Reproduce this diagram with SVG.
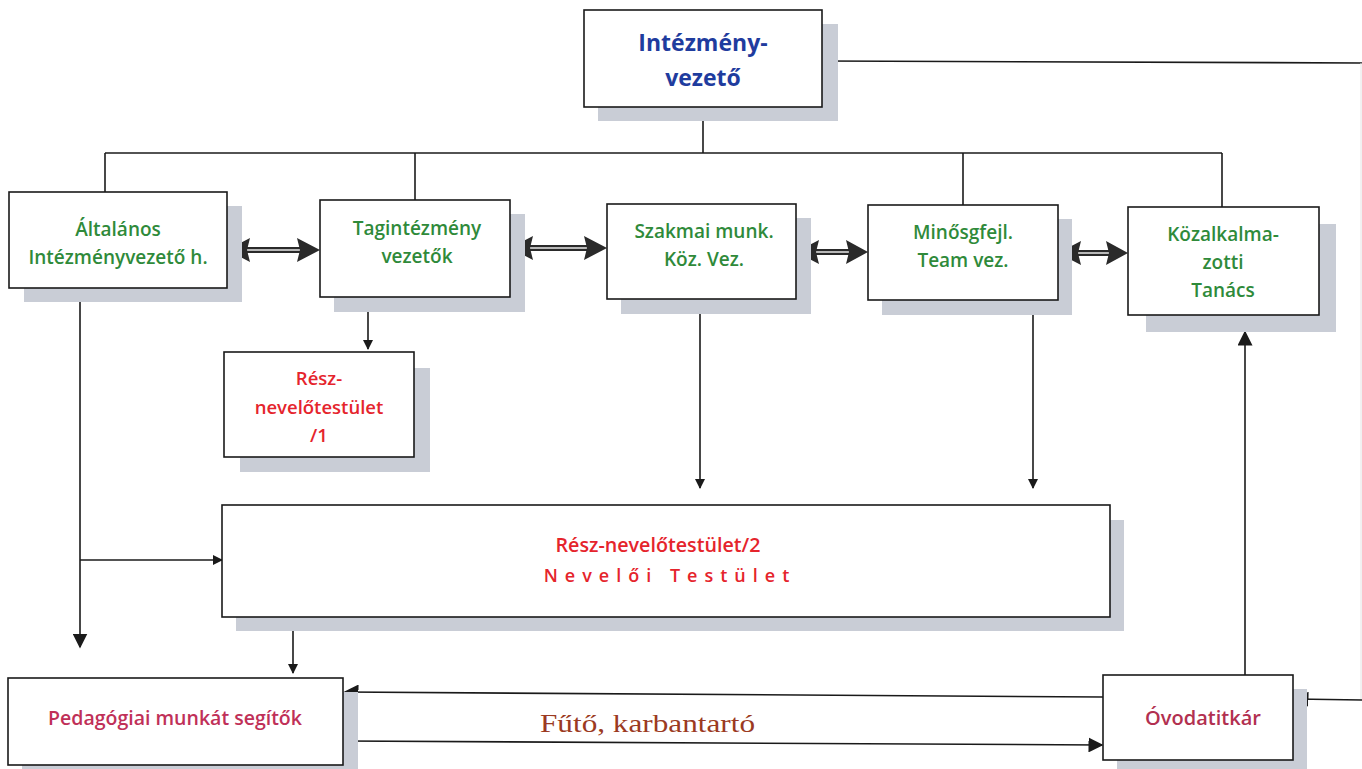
<svg xmlns="http://www.w3.org/2000/svg" width="1362" height="769" viewBox="0 0 1362 769">
<defs>
<style>
.box{fill:#fff;stroke:#1a1a1a;stroke-width:1.6}
.sh{fill:#c9cdd6}
.ln{fill:none;stroke:#1a1a1a;stroke-width:1.6}
.dbl{fill:none;stroke:#2a2a2a;stroke-width:6}
.dblw{fill:none;stroke:#e8e8e8;stroke-width:1.6}
.ah{fill:#2a2a2a}
.t{font-family:"Open Sans","Liberation Sans",sans-serif;font-weight:600;text-anchor:middle}
.blue{fill:#1f3c9e;font-size:23px;font-weight:700}
.green{fill:#2f8a3a;font-size:19px}
.red{fill:#e5242c;font-size:18.5px}
.pink{fill:#c03058;font-size:19.5px}
</style>
<marker id="arr" viewBox="0 0 10 10" refX="9" refY="5" markerWidth="10" markerHeight="10" markerUnits="userSpaceOnUse" orient="auto"><path d="M0,0 L10,5 L0,10 z" fill="#1a1a1a"/></marker>
<marker id="arrB" viewBox="0 0 10 10" refX="9" refY="5" markerWidth="15" markerHeight="15" markerUnits="userSpaceOnUse" orient="auto"><path d="M0,0 L10,5 L0,10 z" fill="#1a1a1a"/></marker>
</defs>

<g id="connectors">
<line class="ln" x1="822" y1="61" x2="1362" y2="63"/>
<line x1="1361" y1="63" x2="1361" y2="700" stroke="#e4e4e4" stroke-width="1"/>
<line class="ln" x1="703" y1="107" x2="703" y2="153"/>
<line class="ln" x1="105" y1="153" x2="1222" y2="153"/>
<line class="ln" x1="105" y1="153" x2="105" y2="192"/>
<line class="ln" x1="415" y1="153" x2="415" y2="200"/>
<line class="ln" x1="963" y1="153" x2="963" y2="205"/>
<line class="ln" x1="1222" y1="153" x2="1222" y2="207"/>
<g>
<line class="dbl" x1="245" y1="250" x2="300" y2="250"/><line class="dblw" x1="245" y1="250" x2="300" y2="250"/>
<polygon class="ah" points="227,250 250,238 247,250 250,262"/><polygon class="ah" points="320,250 297,238 300,250 297,262"/>
</g>
<g>
<line class="dbl" x1="528" y1="248" x2="590" y2="248"/><line class="dblw" x1="528" y1="248" x2="590" y2="248"/>
<polygon class="ah" points="510,248 533,236 530,248 533,260"/><polygon class="ah" points="607,248 584,236 587,248 584,260"/>
</g>
<g>
<line class="dbl" x1="814" y1="252" x2="852" y2="252"/><line class="dblw" x1="814" y1="252" x2="852" y2="252"/>
<polygon class="ah" points="796,252 819,240 816,252 819,264"/><polygon class="ah" points="868,252 846,240 849,252 846,264"/>
</g>
<g>
<line class="dbl" x1="1076" y1="253" x2="1112" y2="253"/><line class="dblw" x1="1076" y1="253" x2="1112" y2="253"/>
<polygon class="ah" points="1058,253 1081,241 1078,253 1081,265"/><polygon class="ah" points="1128,253 1106,241 1109,253 1106,265"/>
</g>
<line class="ln" x1="368" y1="297" x2="368" y2="349" marker-end="url(#arr)"/>
<line class="ln" x1="700" y1="299" x2="700" y2="488" marker-end="url(#arr)"/>
<line class="ln" x1="1033" y1="300" x2="1033" y2="488" marker-end="url(#arr)"/>
<line class="ln" x1="80" y1="287" x2="80" y2="647" marker-end="url(#arrB)"/>
<line class="ln" x1="80" y1="560" x2="222" y2="560" marker-end="url(#arr)"/>
<line class="ln" x1="293" y1="617" x2="293" y2="673" marker-end="url(#arr)"/>
<line class="ln" x1="1103" y1="697" x2="345" y2="692" marker-end="url(#arrB)"/>
<line class="ln" x1="344" y1="741" x2="1102" y2="745" marker-end="url(#arrB)"/>
<line class="ln" x1="1362" y1="700" x2="1295" y2="699" marker-end="url(#arrB)"/>
<line class="ln" x1="1245" y1="675" x2="1245" y2="332" marker-end="url(#arrB)"/>
</g>

<g id="intezmenyvezeto">
<rect class="sh" x="598" y="24" width="240" height="97"/>
<rect class="box" x="584" y="10" width="238" height="97"/>
<text class="t blue" x="703" y="51">Intézmény-</text>
<text class="t blue" x="703" y="86">vezető</text>
</g>

<g id="altalanos">
<rect class="sh" x="24" y="206" width="218" height="96"/>
<rect class="box" x="9" y="192" width="218" height="96"/>
<text class="t green" x="118" y="236">Általános</text>
<text class="t green" x="118" y="264">Intézményvezető h.</text>
</g>

<g id="tagintezmeny">
<rect class="sh" x="334" y="214" width="191" height="98"/>
<rect class="box" x="320" y="200" width="190" height="97"/>
<text class="t green" x="417" y="235">Tagintézmény</text>
<text class="t green" x="417" y="263">vezetők</text>
</g>

<g id="szakmai">
<rect class="sh" x="621" y="218" width="190" height="96"/>
<rect class="box" x="607" y="204" width="189" height="95"/>
<text class="t green" x="704" y="238">Szakmai munk.</text>
<text class="t green" x="704" y="266">Köz. Vez.</text>
</g>

<g id="minoseg">
<rect class="sh" x="882" y="219" width="190" height="96"/>
<rect class="box" x="868" y="205" width="190" height="95"/>
<text class="t green" x="963" y="239">Minősgfejl.</text>
<text class="t green" x="963" y="267">Team vez.</text>
</g>

<g id="kozalkalmazotti">
<rect class="sh" x="1146" y="224" width="190" height="108"/>
<rect class="box" x="1128" y="207" width="191" height="108"/>
<text class="t green" x="1223" y="241">Közalkalma-</text>
<text class="t green" x="1223" y="269">zotti</text>
<text class="t green" x="1223" y="297">Tanács</text>
</g>

<g id="resz1">
<rect class="sh" x="240" y="368" width="190" height="104"/>
<rect class="box" x="224" y="352" width="190" height="105"/>
<text class="t red" x="319" y="385">Rész-</text>
<text class="t red" x="319" y="414">nevelőtestület</text>
<text class="t red" x="319" y="442">/1</text>
</g>

<g id="nevelotestulet">
<rect class="sh" x="236" y="520" width="888" height="111"/>
<rect class="box" x="222" y="505" width="888" height="112"/>
<text class="t red" x="658" y="552" style="font-size:19px" textLength="205" lengthAdjust="spacingAndGlyphs">Rész-nevelőtestület/2</text>
<text class="t red" x="670" y="582" style="font-size:18px;letter-spacing:7px">Nevelői Testület</text>
</g>

<g id="pedagogiai">
<rect class="sh" x="22" y="692" width="336" height="80"/>
<rect class="box" x="8" y="678" width="335" height="87"/>
<text class="t pink" x="175" y="725">Pedagógiai munkát segítők</text>
</g>

<g id="futo">
<text x="540" y="732" textLength="215" lengthAdjust="spacingAndGlyphs" style="font-family:'Liberation Serif',serif;font-size:26px;fill:#9b3a22">Fűtő, karbantartó</text>
</g>

<g id="ovodatitkar">
<rect class="sh" x="1117" y="689" width="190" height="80"/>
<rect class="box" x="1103" y="675" width="190" height="85"/>
<text class="t" x="1203" y="725" style="fill:#b23050;font-size:20px">Óvodatitkár</text>
</g>
</svg>
